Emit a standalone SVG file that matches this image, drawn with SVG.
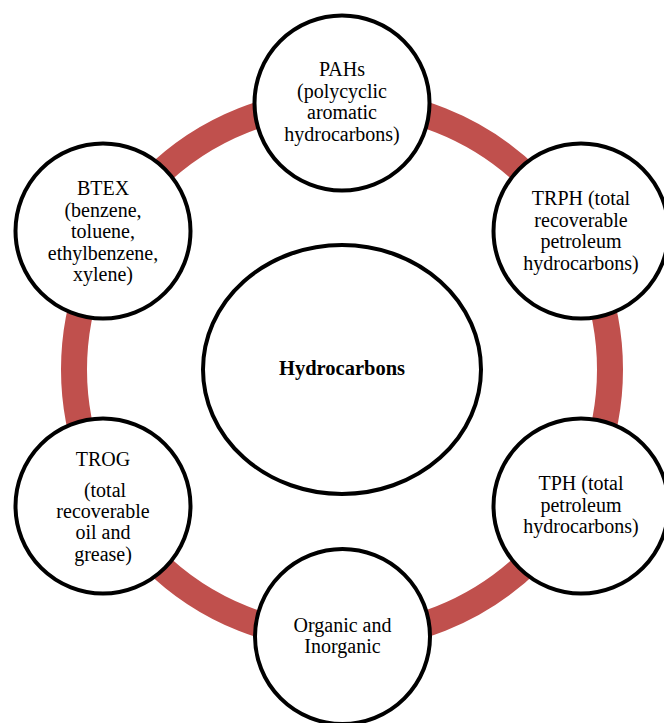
<svg xmlns="http://www.w3.org/2000/svg" width="664" height="723" viewBox="0 0 664 723">
<style>
.node{fill:#ffffff;stroke:#000000;stroke-width:4}
.t{font-family:"Liberation Serif","Times New Roman",serif;font-size:20px;fill:#000000;text-anchor:middle}
.b{font-weight:bold;font-size:20.5px}
</style>
<rect width="664" height="723" fill="#ffffff"/>
<g id="connectors">
<circle cx="342" cy="369.5" r="268" fill="none" stroke="#C0504D" stroke-width="26"/>
</g>
<g id="center">
<ellipse class="node" cx="342" cy="369.5" rx="139" ry="124.5"/>
<text class="t b" x="342" y="375">Hydrocarbons</text>
</g>
<g id="pahs">
<circle class="node" cx="342" cy="103" r="87.5"/>
<text class="t" x="342" y="76">PAHs</text>
<text class="t" x="342" y="97.5">(polycyclic</text>
<text class="t" x="342" y="119">aromatic</text>
<text class="t" x="342" y="140.5">hydrocarbons)</text>
</g>
<g id="trph">
<circle class="node" cx="581" cy="231" r="87.5"/>
<text class="t" x="581" y="205">TRPH (total</text>
<text class="t" x="581" y="226.5">recoverable</text>
<text class="t" x="581" y="248">petroleum</text>
<text class="t" x="581" y="269.5">hydrocarbons)</text>
</g>
<g id="tph">
<circle class="node" cx="581" cy="506" r="87.5"/>
<text class="t" x="581" y="490">TPH (total</text>
<text class="t" x="581" y="511.5">petroleum</text>
<text class="t" x="581" y="533">hydrocarbons)</text>
</g>
<g id="organic">
<circle class="node" cx="342.5" cy="636.5" r="87.5"/>
<text class="t" x="342.5" y="631.7">Organic and</text>
<text class="t" x="342.5" y="653.3">Inorganic</text>
</g>
<g id="trog">
<circle class="node" cx="103" cy="506" r="87.5"/>
<text class="t" x="103" y="466">TROG</text>
<text class="t" x="105" y="496.7">(total</text>
<text class="t" x="103" y="518.3">recoverable</text>
<text class="t" x="103" y="539.3">oil and</text>
<text class="t" x="103" y="560.7">grease)</text>
</g>
<g id="btex">
<circle class="node" cx="103" cy="231" r="87.5"/>
<text class="t" x="103" y="195">BTEX</text>
<text class="t" x="103" y="216.5">(benzene,</text>
<text class="t" x="103" y="238">toluene,</text>
<text class="t" x="103" y="259.5">ethylbenzene,</text>
<text class="t" x="103" y="281">xylene)</text>
</g>
</svg>
